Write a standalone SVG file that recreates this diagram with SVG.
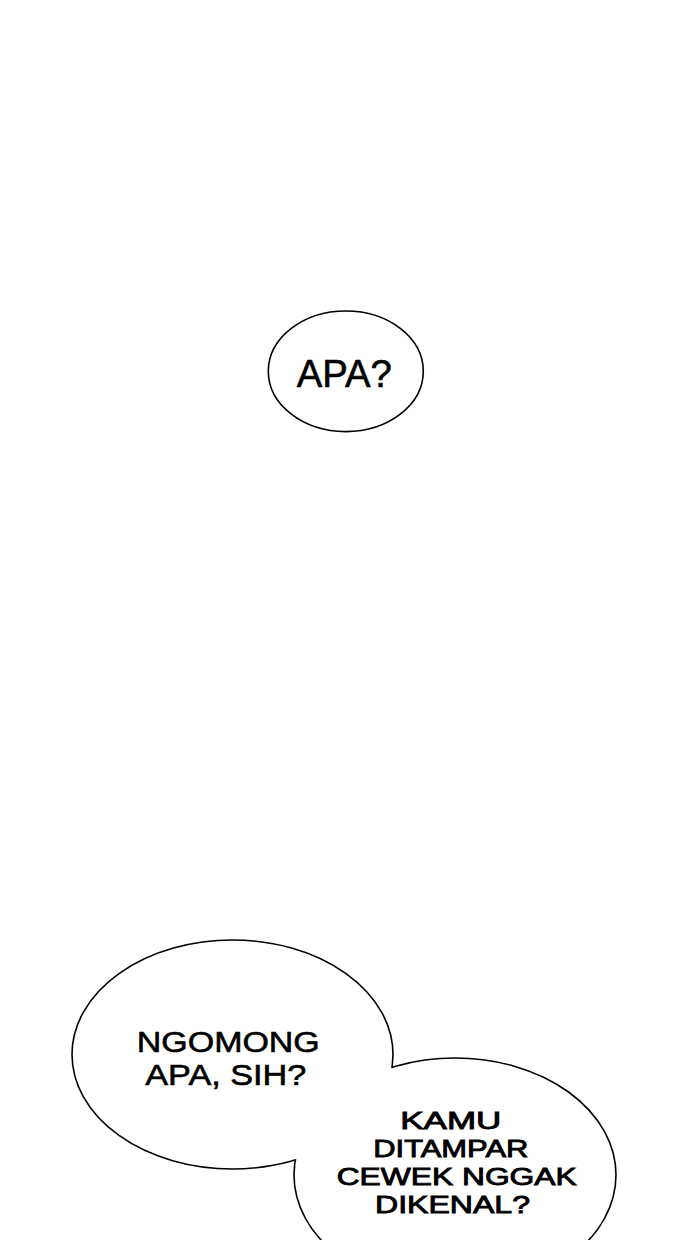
<svg xmlns="http://www.w3.org/2000/svg" width="690" height="1240" viewBox="0 0 690 1240">
  <style>
    .bubble { fill: #ffffff; stroke: #000000; stroke-width: 1.6; }
    .fill { fill: #ffffff; stroke: none; }
    .edge { fill: none; stroke: #000000; stroke-width: 1.6; }
    .t { font-family: "Liberation Sans", Arial, sans-serif; fill: #000000; stroke: #000000; stroke-width: 0.6; text-anchor: middle; }
    .s24 { font-size: 24.5px; stroke-width: 0.9; }
    .s30 { font-size: 30px; }
    .s39 { font-size: 39px; }
  </style>
  <defs>
    <mask id="outsideLeft" maskUnits="userSpaceOnUse" x="0" y="0" width="690" height="1240">
      <rect x="0" y="0" width="690" height="1240" fill="#ffffff"/>
      <ellipse cx="232.5" cy="1054.5" rx="160.5" ry="114.5" fill="#000000"/>
    </mask>
  </defs>
  <rect x="0" y="0" width="690" height="1240" fill="#ffffff"/>

  <g id="bubble-apa">
    <ellipse class="bubble" cx="345.8" cy="371.3" rx="77.5" ry="60.3"/>
    <text class="t s39" x="344.2" y="386.7" textLength="95" lengthAdjust="spacingAndGlyphs">APA?</text>
  </g>

  <g id="bubble-ngomong">
    <ellipse class="bubble" cx="232.5" cy="1054.5" rx="160.5" ry="114.5"/>
    <text class="t s30"><tspan x="228.3" y="1051.7" textLength="183" lengthAdjust="spacingAndGlyphs">NGOMONG</tspan><tspan x="225.8" y="1085" textLength="161" lengthAdjust="spacingAndGlyphs">APA, SIH?</tspan></text>
  </g>

  <g id="bubble-kamu">
    <ellipse class="fill" cx="455" cy="1175" rx="161" ry="117"/>
    <ellipse class="edge" cx="455" cy="1175" rx="161" ry="117" mask="url(#outsideLeft)"/>
    <text class="t s24"><tspan x="450.8" y="1129" textLength="101" lengthAdjust="spacingAndGlyphs">KAMU</tspan><tspan x="450.8" y="1157.1" textLength="155" lengthAdjust="spacingAndGlyphs">DITAMPAR</tspan><tspan x="456.7" y="1185.2" textLength="240" lengthAdjust="spacingAndGlyphs">CEWEK NGGAK</tspan><tspan x="452.5" y="1213.3" textLength="155" lengthAdjust="spacingAndGlyphs">DIKENAL?</tspan></text>
  </g>

  <g id="connectors"></g>
</svg>
